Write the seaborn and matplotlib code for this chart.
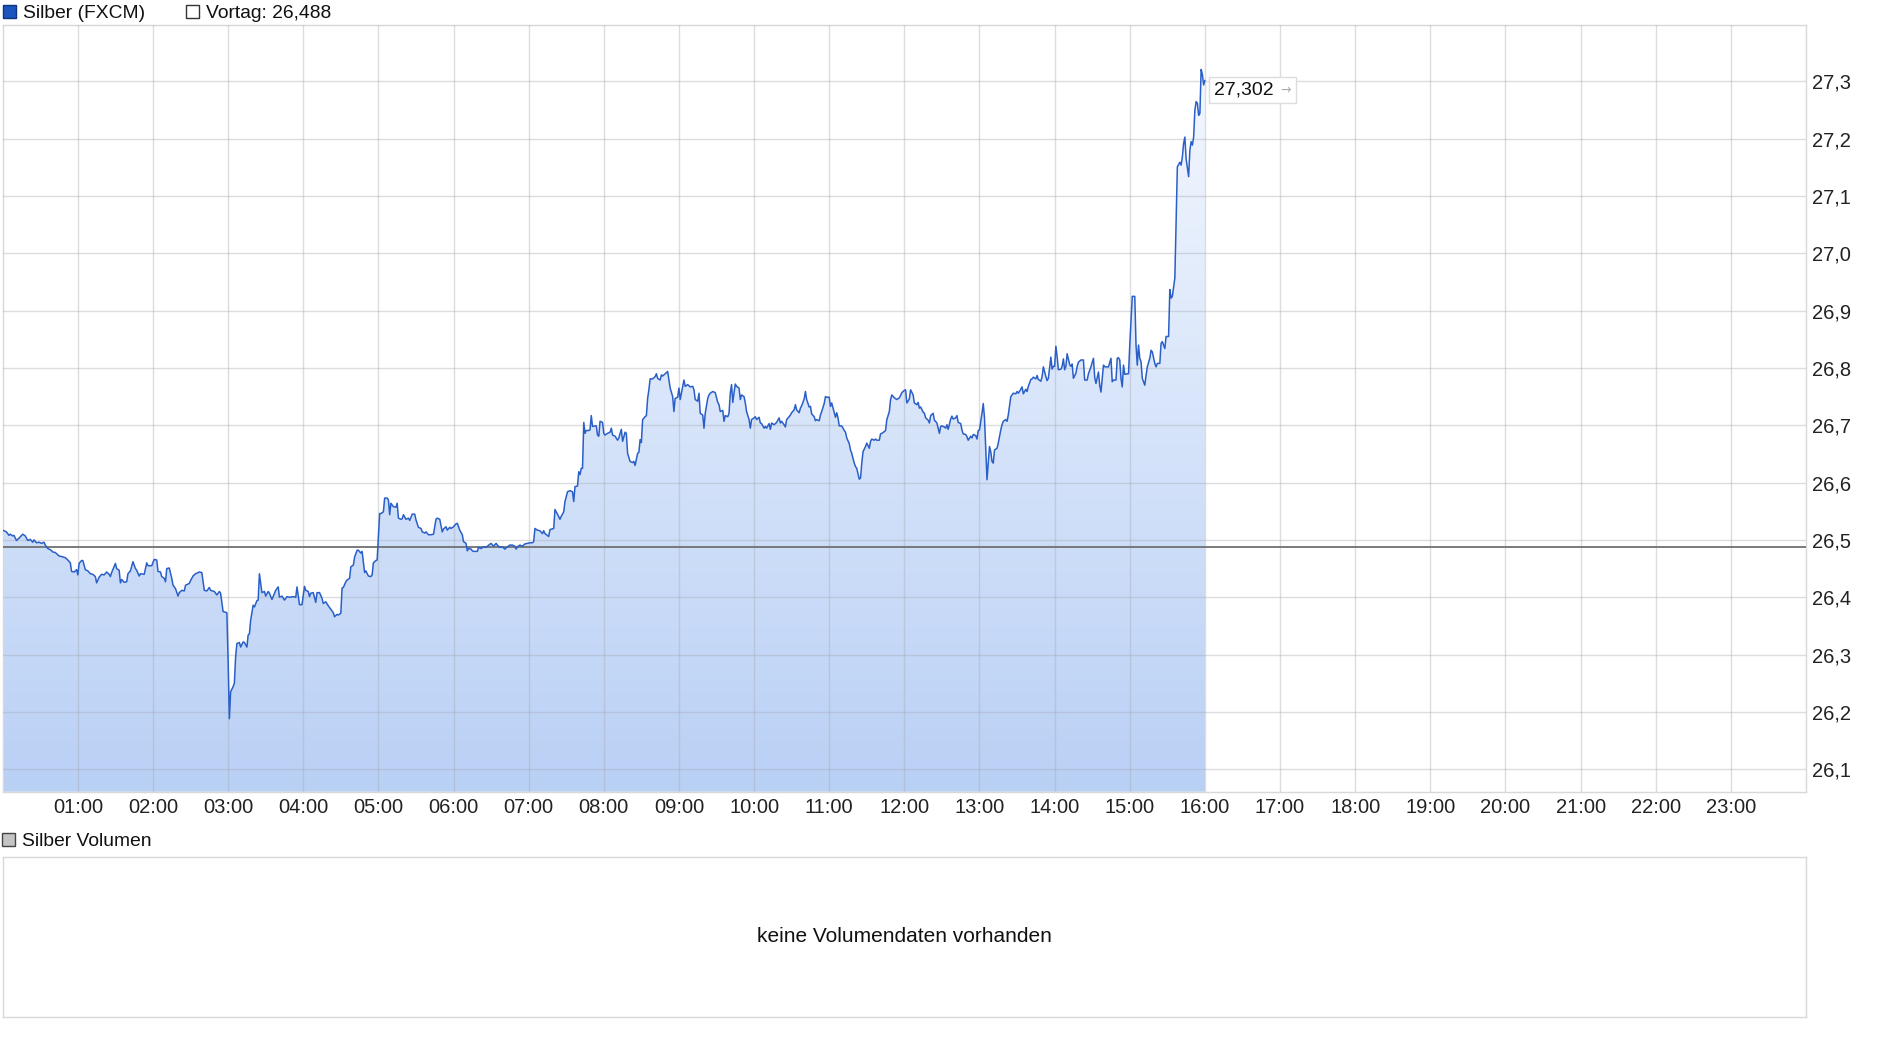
import numpy as np
import pandas as pd
import matplotlib
matplotlib.use("Agg")
import matplotlib.pyplot as plt
import seaborn as sns
from matplotlib.patches import Rectangle
from matplotlib.colors import LinearSegmentedColormap
from matplotlib.offsetbox import TextArea, HPacker, AnnotationBbox

# Silver intraday prices (minutes after midnight, price)
minutes = [
    0, 3, 5, 6, 8, 9, 11, 13, 16, 18, 20, 22,
    24, 25, 27, 29, 31, 33, 34, 36, 38, 40, 42, 45,
    47, 50, 52, 54, 55, 57, 59, 60, 61, 63, 64, 66,
    68, 70, 72, 74, 75, 77, 79, 81, 83, 85, 86, 87,
    90, 91, 93, 94, 95, 97, 99, 100, 102, 104, 106, 107,
    109, 110, 113, 115, 116, 119, 121, 123, 124, 126, 127, 129,
    130, 131, 133, 135, 136, 138, 140, 141, 143, 145, 146, 149,
    150, 152, 154, 157, 159, 161, 163, 165, 166, 169, 171, 173,
    174, 176, 179, 180, 181, 182, 184, 185, 186, 187, 189, 190,
    192, 193, 195, 196, 197, 198, 200, 201, 203, 204, 205, 207,
    209, 210, 212, 213, 215, 217, 218, 220, 221, 223, 225, 227,
    229, 232, 234, 235, 237, 239, 241, 242, 244, 245,
    246, 248, 250, 251, 253, 255, 256, 258, 260, 262, 264, 265,
    267, 268, 270, 271, 272, 274, 275, 277, 278, 280, 281, 283,
    284, 286, 287, 289, 290, 292, 294, 295, 296, 298, 299, 300,
    301, 302, 304, 305, 307, 308, 309, 310, 312, 314, 315, 316,
    318, 319, 320, 322, 324, 325, 327, 329, 330, 332, 334, 335,
    337, 338, 340, 342, 344, 346, 347, 349, 351, 352, 354, 355,
    357, 358, 360, 362, 363, 365, 367, 368, 370, 371, 372, 374,
    375, 376, 379, 380, 382, 384, 386, 387, 390, 392, 394, 395,
    397, 399, 401, 403, 405, 407, 409, 410, 411, 413, 415, 417,
    419, 421, 423, 424, 425, 427, 429, 431, 432, 433, 436, 437,
    440, 441, 442, 443, 445, 446, 448, 449, 451, 453, 455, 456,
    457, 459, 460,
    461, 462, 463, 464, 465, 466, 468, 469, 470, 471, 473, 474,
    475, 476, 477, 479, 480, 481, 483, 485, 486, 487, 489, 491,
    492, 494, 495, 497, 498, 499, 501, 503, 504, 505, 507, 508,
    509, 510, 511, 513, 514, 515, 516, 517, 519, 521, 522, 523,
    525, 526, 527, 529, 531, 532, 533, 535, 536, 537, 539, 540,
    541, 543, 544, 545, 547, 549, 551, 552, 553, 555, 556, 557,
    559, 560, 561, 563, 564, 565, 567, 569, 571, 572, 573, 575,
    576, 577, 579, 580, 581, 582, 583, 584, 585, 586, 588, 589,
    590, 592, 593, 594, 596, 597, 598, 600, 601, 602, 604, 605,
    606, 608, 609, 610, 612, 613, 614, 616, 617, 618, 620, 621,
    622, 624, 625, 626, 628, 629, 630, 632, 633, 634, 636, 637,
    638, 640, 641, 642, 644, 645, 646, 648, 649, 650, 652, 653,
    654, 656, 657, 658, 660, 661, 662, 664, 665, 666, 667, 668,
    670, 672, 673, 674, 676, 677, 678, 680, 681, 682, 684, 685,
    686, 687, 689, 690, 692, 693, 694, 696, 697, 698, 700, 701,
    702, 704, 705, 706, 708, 709,
    710, 712, 714, 716, 717, 718, 720, 721, 722, 724, 725, 727,
    728, 730, 731, 732, 733, 735, 736, 737, 739, 740, 741, 743,
    744, 746, 747, 748, 749, 750, 752, 753, 754, 755, 757, 758,
    759, 761, 762, 763, 765, 766, 767, 769, 770, 771, 773, 774,
    775, 777, 778, 779, 780, 782, 783, 784, 785, 786, 787, 788,
    789, 790, 791, 792, 794, 795, 797, 798, 799, 801, 802, 803,
    805, 806, 807, 809, 810, 811, 813, 814, 815, 817, 818, 819,
    821, 822, 823, 825, 826, 827, 829, 830, 831, 833, 834, 835,
    837, 838, 839, 840, 841, 842, 843, 845, 846, 847, 848, 849,
    850, 852, 853, 854, 855, 857, 858, 859, 861,
    863, 864, 866, 867, 869, 871, 872, 873, 875, 876, 877, 879,
    880, 881, 883, 885, 886, 887, 889, 890, 891, 892, 893, 894,
    895, 896, 898, 899, 900, 902, 904, 905, 906, 907, 908, 909,
    910, 912, 913, 914, 916, 917, 918, 920, 921, 922, 924, 925,
    926, 928, 929, 931, 932, 933, 934, 936, 937, 938, 940, 941,
    942, 943, 944, 945, 947, 948, 949, 950, 951, 952, 953, 954,
    955, 956, 957, 958, 959, 960,
]
price = [
    26.517, 26.514, 26.508, 26.510, 26.507, 26.508, 26.499, 26.503, 26.510, 26.507, 26.499, 26.501,
    26.496, 26.500, 26.495, 26.496, 26.494, 26.496, 26.491, 26.485, 26.483, 26.479, 26.478, 26.472,
    26.471, 26.469, 26.465, 26.460, 26.445, 26.444, 26.448, 26.439, 26.459, 26.464, 26.464, 26.448,
    26.446, 26.441, 26.440, 26.436, 26.425, 26.435, 26.440, 26.439, 26.444, 26.440, 26.436, 26.443,
    26.459, 26.450, 26.447, 26.425, 26.431, 26.426, 26.427, 26.441, 26.446, 26.462, 26.450, 26.447,
    26.437, 26.441, 26.440, 26.460, 26.455, 26.455, 26.466, 26.465, 26.445, 26.444, 26.436, 26.433,
    26.427, 26.450, 26.451, 26.433, 26.421, 26.415, 26.402, 26.408, 26.412, 26.411, 26.421, 26.424,
    26.429, 26.437, 26.441, 26.444, 26.443, 26.412, 26.411, 26.417, 26.412, 26.410, 26.404, 26.410,
    26.407, 26.375, 26.373, 26.290, 26.188, 26.235, 26.244, 26.250, 26.296, 26.319, 26.321, 26.313,
    26.322, 26.321, 26.313, 26.334, 26.336, 26.360, 26.386, 26.383, 26.394, 26.395, 26.441, 26.408,
    26.410, 26.402, 26.410, 26.407, 26.396, 26.407, 26.412, 26.418, 26.400, 26.402, 26.395, 26.401,
    26.400, 26.401, 26.400, 26.418, 26.387, 26.387, 26.419, 26.412, 26.410, 26.401,
    26.407, 26.408, 26.391, 26.408, 26.408, 26.398, 26.389, 26.392, 26.385, 26.379, 26.373, 26.366,
    26.370, 26.369, 26.372, 26.416, 26.417, 26.427, 26.430, 26.433, 26.453, 26.456, 26.470, 26.482,
    26.482, 26.477, 26.480, 26.443, 26.446, 26.437, 26.436, 26.439, 26.460, 26.464, 26.465, 26.506,
    26.546, 26.546, 26.549, 26.573, 26.573, 26.570, 26.544, 26.564, 26.558, 26.557, 26.564, 26.538,
    26.536, 26.537, 26.544, 26.536, 26.538, 26.534, 26.545, 26.545, 26.535, 26.522, 26.520, 26.514,
    26.512, 26.514, 26.509, 26.509, 26.510, 26.536, 26.538, 26.536, 26.514, 26.519, 26.523, 26.517,
    26.522, 26.520, 26.523, 26.528, 26.529, 26.517, 26.509, 26.497, 26.494, 26.481, 26.485, 26.484,
    26.481, 26.480, 26.480, 26.487, 26.485, 26.488, 26.487, 26.489, 26.494, 26.489, 26.494, 26.491,
    26.487, 26.488, 26.484, 26.488, 26.491, 26.491, 26.489, 26.484, 26.488, 26.491, 26.489, 26.493,
    26.494, 26.495, 26.495, 26.497, 26.520, 26.517, 26.516, 26.511, 26.516, 26.511, 26.506, 26.518,
    26.520, 26.553, 26.549, 26.545, 26.536, 26.541, 26.549, 26.567, 26.584, 26.586, 26.584, 26.567,
    26.593, 26.594, 26.619,
    26.614, 26.625, 26.625, 26.705, 26.686, 26.691, 26.691, 26.692, 26.717, 26.698, 26.699, 26.699,
    26.683, 26.681, 26.707, 26.705, 26.686, 26.683, 26.686, 26.688, 26.695, 26.683, 26.681, 26.674,
    26.678, 26.693, 26.672, 26.688, 26.686, 26.651, 26.637, 26.635, 26.637, 26.630, 26.651, 26.653,
    26.675, 26.670, 26.710, 26.715, 26.717, 26.747, 26.762, 26.781, 26.781, 26.785, 26.790, 26.782,
    26.779, 26.788, 26.786, 26.790, 26.794, 26.779, 26.765, 26.750, 26.724, 26.747, 26.749, 26.765,
    26.745, 26.768, 26.779, 26.768, 26.771, 26.767, 26.768, 26.762, 26.745, 26.742, 26.756, 26.721,
    26.718, 26.695, 26.721, 26.747, 26.753, 26.756, 26.759, 26.757, 26.740, 26.736, 26.724, 26.726,
    26.707, 26.717, 26.715, 26.721, 26.756, 26.771, 26.740, 26.757, 26.772, 26.768, 26.765, 26.745,
    26.753, 26.750, 26.739, 26.724, 26.710, 26.695, 26.710, 26.713, 26.715, 26.710, 26.714, 26.704,
    26.703, 26.695, 26.698, 26.695, 26.703, 26.693, 26.704, 26.701, 26.703, 26.705, 26.713, 26.704,
    26.707, 26.701, 26.697, 26.710, 26.715, 26.718, 26.722, 26.727, 26.736, 26.727, 26.722, 26.730,
    26.734, 26.746, 26.759, 26.745, 26.732, 26.733, 26.720, 26.715, 26.708, 26.710, 26.708, 26.718,
    26.724, 26.738, 26.750, 26.749, 26.749, 26.733, 26.739, 26.722, 26.714, 26.722, 26.713, 26.699,
    26.699, 26.691, 26.688, 26.678, 26.668, 26.657, 26.651, 26.634, 26.628, 26.625, 26.606, 26.608,
    26.634, 26.654, 26.663, 26.669, 26.660, 26.672, 26.676, 26.674, 26.676, 26.674, 26.674, 26.685,
    26.686, 26.689, 26.691, 26.710, 26.724, 26.745,
    26.753, 26.748, 26.745, 26.748, 26.752, 26.757, 26.761, 26.762, 26.739, 26.746, 26.762, 26.753,
    26.739, 26.736, 26.740, 26.730, 26.732, 26.723, 26.721, 26.713, 26.709, 26.704, 26.717, 26.721,
    26.709, 26.704, 26.695, 26.686, 26.698, 26.699, 26.697, 26.695, 26.701, 26.693, 26.711, 26.716,
    26.711, 26.713, 26.717, 26.705, 26.703, 26.692, 26.685, 26.684, 26.680, 26.674, 26.681, 26.678,
    26.684, 26.682, 26.676, 26.691, 26.692, 26.721, 26.738, 26.713, 26.657, 26.605, 26.634, 26.663,
    26.654, 26.637, 26.634, 26.657, 26.660, 26.669, 26.692, 26.701, 26.707, 26.710, 26.707, 26.718,
    26.750, 26.753, 26.756, 26.755, 26.759, 26.756, 26.763, 26.767, 26.755, 26.763, 26.759, 26.768,
    26.780, 26.781, 26.784, 26.781, 26.787, 26.780, 26.777, 26.785, 26.802, 26.785, 26.778, 26.782,
    26.819, 26.798, 26.803, 26.803, 26.838, 26.820, 26.797, 26.798, 26.803, 26.816, 26.797, 26.803,
    26.825, 26.806, 26.803, 26.807, 26.782, 26.791, 26.803, 26.810, 26.814,
    26.814, 26.779, 26.779, 26.790, 26.802, 26.817, 26.784, 26.773, 26.793, 26.770, 26.758, 26.805,
    26.802, 26.802, 26.802, 26.817, 26.776, 26.779, 26.779, 26.817, 26.818, 26.814, 26.782, 26.767,
    26.805, 26.789, 26.790, 26.790, 26.840, 26.925, 26.925, 26.840, 26.805, 26.840, 26.817, 26.811,
    26.782, 26.770, 26.787, 26.802, 26.817, 26.831, 26.828, 26.808, 26.802, 26.808, 26.808, 26.843,
    26.846, 26.834, 26.855, 26.855, 26.937, 26.922, 26.925, 26.957, 27.051, 27.151, 27.159, 27.154,
    27.168, 27.192, 27.203, 27.165, 27.134, 27.180, 27.195, 27.189, 27.203, 27.250, 27.265, 27.262,
    27.241, 27.244, 27.321, 27.312, 27.294, 27.302,
]
vortag = 26.488
last_price = 27.302

hour_ticks = list(range(1, 24))
hour_labels = [f"{h:02d}:00" for h in hour_ticks]
price_ticks = [26.1, 26.2, 26.3, 26.4, 26.5, 26.6, 26.7, 26.8, 26.9, 27.0, 27.1, 27.2, 27.3]
price_labels = [f"{p:.1f}".replace(".", ",") for p in price_ticks]

sns.set_theme(style="white")
plt.rcParams['font.family'] = ['Liberation Sans', 'DejaVu Sans']

W, H = 1880, 1037
fig = plt.figure(figsize=(W / 100, H / 100), dpi=100)
ax = fig.add_axes([2.7 / W, 1 - 791.7 / H, (1806 - 2.7) / W, (791.7 - 25) / H])

df = pd.DataFrame({"hour": np.array(minutes) / 60.0, "price": price})
ymin, ymax = 26.0606, 27.3986

# gradient area under the line
area = ax.fill_between(df["hour"], df["price"], ymin, color="none", lw=0)
cmap = LinearSegmentedColormap.from_list("silver_fill", ["#b9d0f5", "#f7faff"])
grad = np.linspace(0, 1, 256).reshape(-1, 1)
img = ax.imshow(grad, cmap=cmap, origin="lower", extent=[0, 24, ymin, ymax],
                aspect="auto", zorder=1, interpolation="bilinear")
img.set_clip_path(area.get_paths()[0], transform=ax.transData)

sns.lineplot(data=df, x="hour", y="price", color="#2a5fc8", lw=1.1, ax=ax, zorder=3)
ax.axhline(vortag, color="#707070", lw=1.3, zorder=2.8)

ax.set_xlim(0, 24)
ax.set_ylim(ymin, ymax)
ax.set_axisbelow(False)
ax.set_xticks(hour_ticks, hour_labels)
ax.set_yticks(price_ticks, price_labels)
ax.yaxis.tick_right()
ax.grid(True, color="#a4a8b0", alpha=0.38, lw=1)
ax.tick_params(axis="both", length=0, labelsize=14.5, colors="#222222")
ax.tick_params(axis="x", pad=4.5)
ax.tick_params(axis="y", pad=4.3)
ax.set_xlabel("")
ax.set_ylabel("")
for s in ax.spines.values():
    s.set_color("#d8d8d8")
    s.set_linewidth(1)

# last price label: value plus small grey arrow in a white box
value_txt = TextArea("27,302", textprops=dict(fontsize=14, color="#111111"))
arrow_txt = TextArea("\u2192", textprops=dict(fontsize=9, color="#aaaaaa",
                                             family=["DejaVu Sans"]))
label_box = HPacker(children=[value_txt, arrow_txt], align="center", pad=0, sep=5)
ab = AnnotationBbox(label_box, (minutes[-1] / 60.0, last_price), xybox=(9, -10),
                    boxcoords="offset pixels", box_alignment=(0, 0.5), frameon=True,
                    pad=0.3, bboxprops=dict(boxstyle="square", fc="white", ec="#dddddd", lw=1),
                    zorder=6)
ax.add_artist(ab)

# volume panel
ax2 = fig.add_axes([2.7 / W, 1 - 1017 / H, (1806 - 2.7) / W, (1017 - 857) / H])
ax2.set_xticks([])
ax2.set_yticks([])
for s in ax2.spines.values():
    s.set_color("#d8d8d8")
    s.set_linewidth(1)
ax2.text(0.5, 0.5, "keine Volumendaten vorhanden", ha="center", va="center",
         fontsize=15, color="#111111", transform=ax2.transAxes)


def legend_item(x, y, color, label, edge="#333333"):
    # x, y in pixels from the top-left corner of the figure
    fig.add_artist(Rectangle((x / W, 1 - (y + 13) / H), 13 / W, 13 / H,
                             transform=fig.transFigure, fc=color, ec=edge, lw=1))
    fig.text((x + 20) / W, 1 - (y + 8) / H, label, ha="left", va="center",
             fontsize=13.9, color="#111111")


legend_item(3, 5, "#1c55bd", "Silber (FXCM)", edge="#0f3580")
legend_item(186, 5, "white", "Vortag: 26,488")
legend_item(2, 833, "#c4c4c4", "Silber Volumen", edge="#444444")

fig.savefig("out.png", dpi=100)
